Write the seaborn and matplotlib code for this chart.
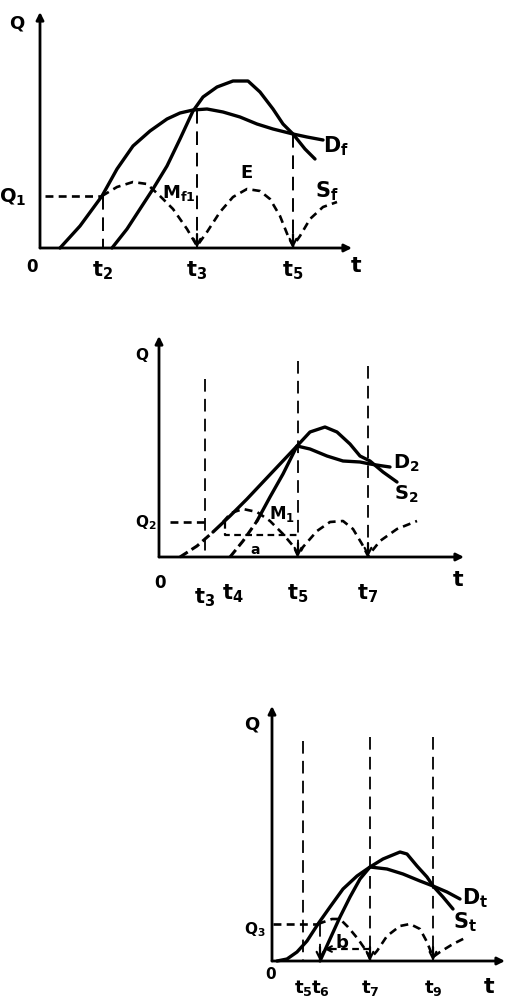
import matplotlib
matplotlib.use("Agg")
import matplotlib.pyplot as plt
import seaborn as sns

sns.set_theme(style="white")
plt.rcParams["font.family"] = ["DejaVu Sans"]
plt.rcParams["mathtext.fontset"] = "dejavusans"

W, H = 507, 1003

# ---------------- Panel 1 (t to the right, Q upward, drawing units) -------------
p1_D_t = [20, 40, 62, 77, 93, 110, 127, 140, 153, 167, 183, 200, 217, 233, 253, 267, 283]
p1_D_q = [0, 22, 52, 79, 102, 117, 129, 135, 138, 139, 136, 131, 124, 119, 114, 111, 108]
p1_S_t = [72, 87, 100, 113, 127, 140, 153, 163, 177, 193, 208, 220, 233, 243, 253, 265, 275]
p1_S_q = [0, 19, 39, 59, 82, 109, 137, 151, 161, 167, 167, 156, 139, 124, 114, 99, 89]
p1_M_t = [62, 77, 93, 107, 120, 133, 147, 157, 167, 180, 193, 207, 220, 230, 240, 248, 253,
          260, 270, 283, 297]
p1_M_q = [52, 61, 66, 64, 52, 39, 19, 2, 16, 36, 51, 59, 57, 49, 32, 12, 2,
          12, 29, 41, 46]
p1_Q = 52
p1_ticks = [63, 157, 253]
p1_tick_labels = [r"$\mathbf{t_2}$", r"$\mathbf{t_3}$", r"$\mathbf{t_5}$"]
p1_vline_top = [52, 138, 114]
p1_vline_arrow = [False, True, True]

# ---------------- Panel 2 ----------------
p2_D_t = [21, 38, 54, 71, 88, 104, 121, 138, 151, 168, 184, 201, 211, 224, 231]
p2_D_q = [0, 11, 25, 41, 58, 75, 93, 111, 108, 101, 96, 95, 93, 91, 90]
p2_S_t = [71, 84, 98, 111, 124, 138, 151, 166, 178, 191, 201, 211, 224, 238]
p2_S_q = [0, 16, 36, 60, 83, 111, 125, 130, 125, 113, 101, 96, 85, 75]
p2_M_t = [64, 72, 84, 98, 111, 124, 135, 139, 144, 158, 171, 184, 194, 203, 209, 221, 238, 258]
p2_M_q = [35, 44, 48, 45, 36, 23, 10, 1, 10, 26, 35, 36, 28, 13, 1, 16, 28, 36]
p2_Q = 35
p2_gap_q = 22
p2_ticks = [46, 74, 139, 209]
p2_tick_labels = [r"$\mathbf{t_3}$", r"$\mathbf{t_4}$", r"$\mathbf{t_5}$", r"$\mathbf{t_7}$"]
p2_vline_top = [178, None, 196, 191]
p2_vline_arrow = [False, False, True, True]

# ---------------- Panel 3 ----------------
p3_D_t = [5, 15, 25, 35, 46, 58, 71, 85, 98, 115, 131, 148, 161, 175, 188]
p3_D_q = [0, 2, 9, 20, 37, 54, 72, 85, 94, 92, 87, 80, 75, 69, 62]
p3_S_t = [48, 58, 68, 78, 88, 98, 111, 128, 135, 145, 155, 161, 171, 181]
p3_S_q = [0, 22, 44, 64, 82, 94, 102, 109, 107, 95, 84, 75, 64, 52]
p3_M_t = [46, 60, 68, 76, 86, 95, 98, 105, 115, 128, 138, 148, 155, 161, 168, 181, 195]
p3_M_q = [37, 42, 42, 34, 22, 9, 2, 10, 25, 35, 37, 32, 19, 4, 9, 17, 24]
p3_Q = 37
p3_gap_q = 12
p3_ticks = [31, 48, 98, 161]
p3_tick_labels = [r"$\mathbf{t_5}$", r"$\mathbf{t_6}$", r"$\mathbf{t_7}$", r"$\mathbf{t_9}$"]
p3_vline_top = [220, 37, 224, 224]
p3_vline_arrow = [False, True, True, True]

fig = plt.figure(figsize=(W / 100, H / 100), dpi=100)

DASH = (0, (3, 2))
LONGDASH = (0, (7, 4))


def new_axes(ox, oy):
    ax = fig.add_axes([0, 0, 1, 1], facecolor="none")
    ax.set_xlim(-ox, W - ox)
    ax.set_ylim(oy - H, oy)
    ax.axis("off")
    return ax


def axes_arrows(ax, t_end, q_end):
    kw = dict(arrowstyle="-|>", lw=2.0, color="black", mutation_scale=11,
              shrinkA=0, shrinkB=0)
    ax.annotate("", xy=(0, q_end), xytext=(0, 0), arrowprops=kw)
    ax.annotate("", xy=(t_end, 0), xytext=(0, 0), arrowprops=kw)


def solid(ax, t, q, lw=2.4):
    sns.lineplot(x=t, y=q, ax=ax, color="black", lw=lw, sort=False,
                 estimator=None, solid_capstyle="round", solid_joinstyle="round")


def dashed(ax, t, q, lw=1.9, ls=DASH):
    sns.lineplot(x=t, y=q, ax=ax, color="black", lw=lw, sort=False,
                 estimator=None, linestyle=ls)


def down_arrow(ax, t):
    ax.annotate("", xy=(t, 0), xytext=(t, 14),
                arrowprops=dict(arrowstyle="->", lw=1.6, color="black",
                                mutation_scale=12, shrinkA=0, shrinkB=0))


def lab(ax, t, q, s, size=14):
    ax.text(t, q, s, ha="center", va="center", fontsize=size,
            fontweight="bold", color="black")


# ================= Panel 1 =================
ax1 = new_axes(40, 249)
axes_arrows(ax1, 312, 236)
solid(ax1, p1_D_t, p1_D_q)
solid(ax1, p1_S_t, p1_S_q)
dashed(ax1, p1_M_t, p1_M_q)
dashed(ax1, [5, p1_ticks[0]], [p1_Q, p1_Q])
for x, top, arr in zip(p1_ticks, p1_vline_top, p1_vline_arrow):
    dashed(ax1, [x, x], [top, 0], lw=1.4, ls=LONGDASH)
    if arr:
        down_arrow(ax1, x)
for x, s in zip(p1_ticks, p1_tick_labels):
    lab(ax1, x, -22, s, 15)
lab(ax1, -8, -18, "0", 12)
lab(ax1, 316, -17, "t", 16)
lab(ax1, -23, 226, "Q", 13)
lab(ax1, -27, p1_Q, r"$\mathbf{Q_1}$", 14)
lab(ax1, 139, 56, r"$\mathbf{M_{f1}}$", 13)
lab(ax1, 207, 76, "E", 13)
lab(ax1, 296, 103, r"$\mathbf{D_f}$", 15)
lab(ax1, 287, 58, r"$\mathbf{S_f}$", 15)

# ================= Panel 2 =================
ax2 = new_axes(159, 558)
axes_arrows(ax2, 305, 221)
# lower parts of the two curves are drawn broken in the sketch
solid(ax2, p2_D_t[2:], p2_D_q[2:])
dashed(ax2, p2_D_t[:3], p2_D_q[:3], lw=2.2, ls=(0, (3, 1.5)))
solid(ax2, p2_S_t[2:], p2_S_q[2:])
dashed(ax2, p2_S_t[:3], p2_S_q[:3], lw=2.2, ls=(0, (3, 1.5)))
dashed(ax2, p2_M_t, p2_M_q)
dashed(ax2, [11, p2_ticks[0]], [p2_Q, p2_Q])
dashed(ax2, [66, 66, p2_ticks[2]], [p2_Q, p2_gap_q, p2_gap_q], lw=1.6)
for x, top, arr in zip(p2_ticks, p2_vline_top, p2_vline_arrow):
    if top is not None:
        dashed(ax2, [x, x], [top, 0], lw=1.3, ls=LONGDASH)
    if arr:
        down_arrow(ax2, x)
for x, s, dy in zip(p2_ticks, p2_tick_labels, [-40, -36, -36, -36]):
    lab(ax2, x, dy, s, 15)
lab(ax2, 1, -25, "0", 12)
lab(ax2, 299, -22, "t", 16)
lab(ax2, -17, 203, "Q", 11)
lab(ax2, -13, p2_Q, r"$\mathbf{Q_2}$", 11)
lab(ax2, 123, 44, r"$\mathbf{M_1}$", 12)
lab(ax2, 96, 8, "a", 10)
lab(ax2, 247, 95, r"$\mathbf{D_2}$", 14)
lab(ax2, 247, 64, r"$\mathbf{S_2}$", 14)

# ================= Panel 3 =================
ax3 = new_axes(272, 962)
axes_arrows(ax3, 233, 255)
solid(ax3, p3_D_t, p3_D_q)
solid(ax3, p3_S_t, p3_S_q)
dashed(ax3, p3_M_t, p3_M_q)
dashed(ax3, [1, p3_M_t[0]], [p3_Q, p3_Q])
dashed(ax3, [p3_ticks[2], p3_ticks[1] + 12], [p3_gap_q, p3_gap_q], lw=1.6)
ax3.annotate("", xy=(p3_ticks[1] + 4, p3_gap_q), xytext=(p3_ticks[1] + 14, p3_gap_q),
             arrowprops=dict(arrowstyle="->", lw=1.5, color="black",
                             mutation_scale=10, shrinkA=0, shrinkB=0))
for x, top, arr in zip(p3_ticks, p3_vline_top, p3_vline_arrow):
    dashed(ax3, [x, x], [top, 0], lw=1.3, ls=LONGDASH)
    if arr:
        down_arrow(ax3, x)
for x, s in zip(p3_ticks, p3_tick_labels):
    lab(ax3, x, -26, s, 13)
lab(ax3, -1, -13, "0", 11)
lab(ax3, 217, -25, "t", 16)
lab(ax3, -20, 237, "Q", 13)
lab(ax3, -17, 32, r"$\mathbf{Q_3}$", 11)
lab(ax3, 70, 19, "b", 13)
lab(ax3, 203, 64, r"$\mathbf{D_t}$", 15)
lab(ax3, 193, 40, r"$\mathbf{S_t}$", 15)

fig.savefig("out.png", dpi=100)
